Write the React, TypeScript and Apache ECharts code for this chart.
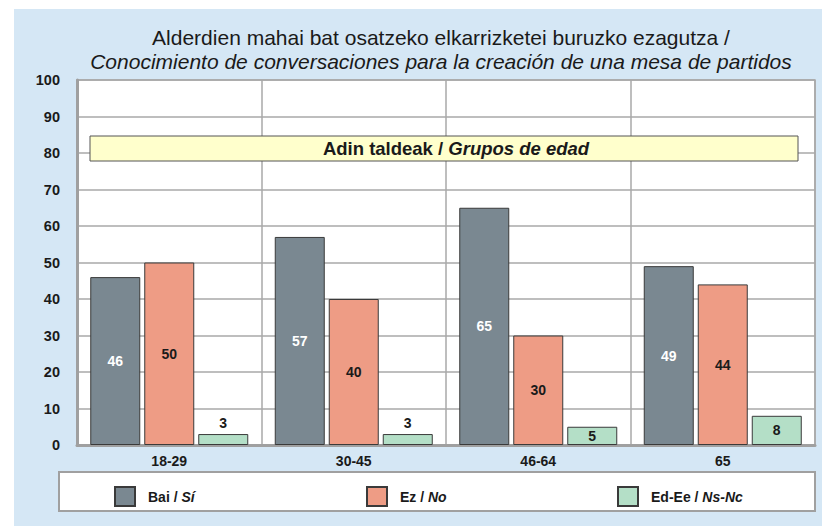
import React, { useEffect, useRef } from "react";
import * as echarts from "echarts";

const categories = ["18-29", "30-45", "46-64", "65"];
const baiValues = [46, 57, 65, 49];
const ezValues = [50, 40, 30, 44];
const nsValues = [3, 3, 5, 8];
const seriesNames = ["Bai / Sí", "Ez / No", "Ed-Ee / Ns-Nc"];
const legendRich: Record<string, string> = {
  "Bai / Sí": "{b|Bai / }{i|Sí}",
  "Ez / No": "{b|Ez / }{i|No}",
  "Ed-Ee / Ns-Nc": "{b|Ed-Ee / }{i|Ns-Nc}",
};
const yTicks = { min: 0, max: 100, interval: 10 };

const colors = ["#7a8891", "#ee9c85", "#b4dfc7"];
const TXT = "#1a1a1a";
const FF = "Liberation Sans, Arial, sans-serif";

export default function App() {
  const ref = useRef<HTMLDivElement>(null);
  useEffect(() => {
    const chart = echarts.init(ref.current!, null, { renderer: "svg" });
    const labelBase = { show: true, fontSize: 14, fontWeight: "bold", fontFamily: FF };
    const makeSeries = (name: string, values: number[], color: string, labelColor: string, idx: number) => ({
      name,
      type: "bar",
      barWidth: 50,
      barGap: "8%",
      itemStyle: { color, borderColor: "#3a3a3a", borderWidth: 1 },
      label: { ...labelBase, position: "inside", color: labelColor },
      data: values.map((v) =>
        idx === 2 && v < 4 ? { value: v, label: { position: "top", distance: 4 } } : { value: v }
      ),
    });
    const legendCommon = {
      top: 481,
      itemWidth: 20,
      itemHeight: 19,
      icon: "rect",
      textStyle: {
        padding: [0, 0, 0, 8],
        rich: {
          b: { fontSize: 14, fontWeight: "bold", color: TXT, fontFamily: FF },
          i: { fontSize: 14, fontWeight: "bold", fontStyle: "italic", color: TXT, fontFamily: FF },
        },
      },
      formatter: (n: string) => legendRich[n] || n,
      selectedMode: false,
    };
    chart.setOption({
      animation: false,
      backgroundColor: "#ffffff",
      textStyle: { fontFamily: FF },
      title: {
        left: 436,
        top: 20,
        textAlign: "center",
        text: "{a|Alderdien mahai bat osatzeko elkarrizketei buruzko ezagutza /}\n{b|Conocimiento de conversaciones para la creación de una mesa de partidos}",
        textStyle: {
          fontWeight: "normal",
          rich: {
            a: { fontSize: 21, fontWeight: "normal", color: TXT, lineHeight: 24, fontFamily: FF },
            b: { fontSize: 21, fontWeight: "normal", color: TXT, lineHeight: 24, fontStyle: "italic", fontFamily: FF },
          },
        },
      },
      graphic: [
        { type: "rect", z: -10, shape: { x: 14, y: 9, width: 808, height: 517 }, style: { fill: "#d5e7f5" } },
        { type: "rect", z: 0, shape: { x: 59, y: 472, width: 756, height: 39 }, style: { fill: "#ffffff", stroke: "#a0a0a0", lineWidth: 2 } },
        { type: "rect", z: 10, shape: { x: 90, y: 136, width: 708, height: 25 }, style: { fill: "#ffffcc", stroke: "#555555", lineWidth: 1 } },
        {
          type: "text",
          z: 11,
          x: 456,
          y: 148.5,
          style: {
            text: "{b|Adin taldeak / }{i|Grupos de edad}",
            align: "center",
            verticalAlign: "middle",
            rich: {
              b: { fontSize: 18.5, fontWeight: "bold", fill: TXT, fontFamily: FF },
              i: { fontSize: 18.5, fontWeight: "bold", fontStyle: "italic", fill: TXT, fontFamily: FF },
            },
          },
        },
      ],
      legend: [
        { ...legendCommon, left: 109, data: [seriesNames[0]] },
        { ...legendCommon, left: 361, data: [seriesNames[1]] },
        { ...legendCommon, left: 612, data: [seriesNames[2]] },
      ],
      grid: {
        left: 77,
        right: 7,
        top: 80,
        bottom: 81,
        show: true,
        backgroundColor: "#ffffff",
        borderColor: "#a8a8a8",
        borderWidth: 1.5,
      },
      xAxis: {
        type: "category",
        data: categories,
        axisLine: { show: true, lineStyle: { color: "#a0a0a0", width: 3 } },
        axisTick: { show: false },
        axisLabel: { fontSize: 14, fontWeight: "bold", color: TXT, margin: 9 },
        splitLine: { show: true, lineStyle: { color: "#a8a8a8", width: 1.5 } },
      },
      yAxis: {
        type: "value",
        ...yTicks,
        axisLine: { show: true, lineStyle: { color: "#a0a0a0", width: 3 } },
        axisTick: { show: false },
        axisLabel: { fontSize: 14.5, fontWeight: "bold", color: TXT, margin: 17 },
        splitLine: { show: true, lineStyle: { color: "#a8a8a8", width: 1.5 } },
      },
      series: [
        makeSeries(seriesNames[0], baiValues, colors[0], "#ffffff", 0),
        makeSeries(seriesNames[1], ezValues, colors[1], TXT, 1),
        makeSeries(seriesNames[2], nsValues, colors[2], TXT, 2),
      ],
    });
    return () => chart.dispose();
  }, []);
  return (
    <div style={{ position: "absolute", left: 0, top: 0, width: 822, height: 526 }}>
      <div ref={ref} style={{ width: 822, height: 526 }} />
    </div>
  );
}
